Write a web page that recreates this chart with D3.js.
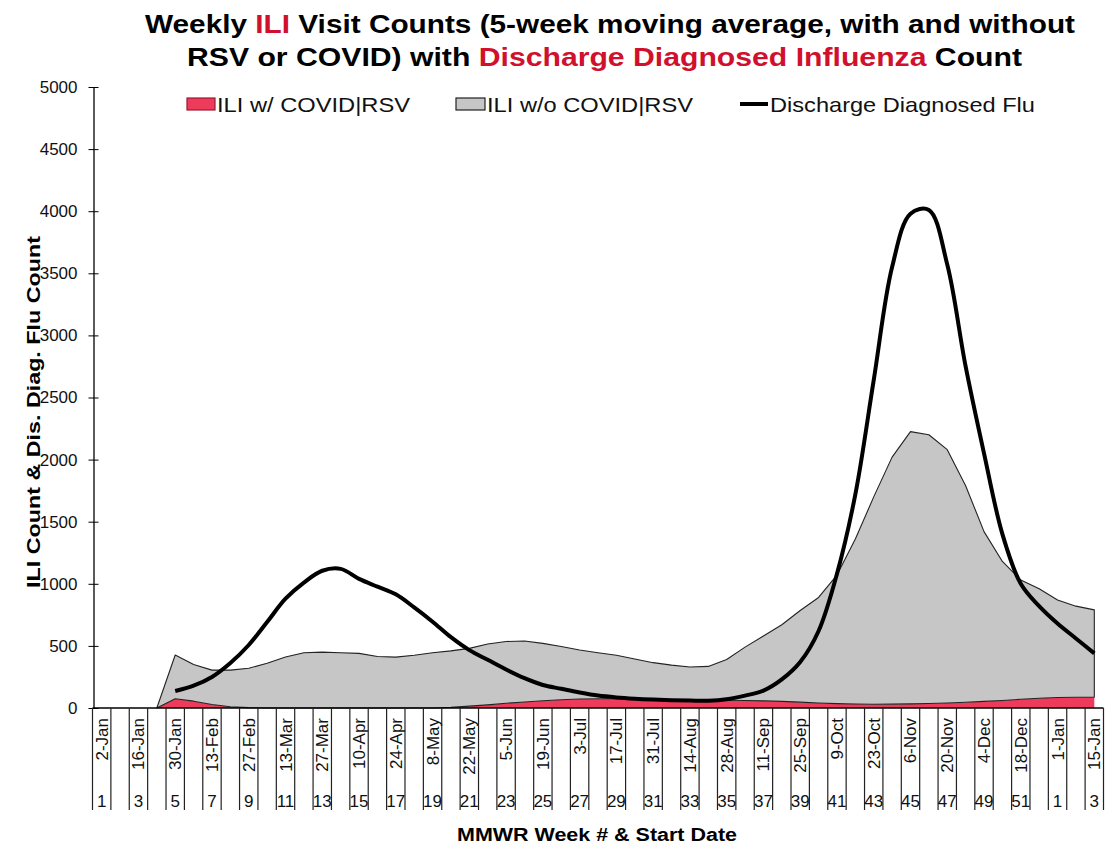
<html>
  <head>
    <title>Weekly ILI Visit Counts</title>
    <script src="https://d3js.org/d3.v7.min.js"></script>
    <style>
      body {
        margin: 0;
        background-color: white;
        font-family: "Liberation Sans", Arial, sans-serif;
      }
    </style>
  </head>
  <body>
    <svg id="chart" width="1105" height="844"></svg>

    <script>
      // week start dates and MMWR week numbers (Jan 2022 - Jan 2023)
      var dates = ["2-Jan","9-Jan","16-Jan","23-Jan","30-Jan","6-Feb","13-Feb","20-Feb","27-Feb","6-Mar",
        "13-Mar","20-Mar","27-Mar","3-Apr","10-Apr","17-Apr","24-Apr","1-May","8-May","15-May",
        "22-May","29-May","5-Jun","12-Jun","19-Jun","26-Jun","3-Jul","10-Jul","17-Jul","24-Jul",
        "31-Jul","7-Aug","14-Aug","21-Aug","28-Aug","4-Sep","11-Sep","18-Sep","25-Sep","2-Oct",
        "9-Oct","16-Oct","23-Oct","30-Oct","6-Nov","13-Nov","20-Nov","27-Nov","4-Dec","11-Dec",
        "18-Dec","25-Dec","1-Jan","8-Jan","15-Jan"];
      var weeks = [1,2,3,4,5,6,7,8,9,10,11,12,13,14,15,16,17,18,19,20,21,22,23,24,25,26,27,28,29,30,
        31,32,33,34,35,36,37,38,39,40,41,42,43,44,45,46,47,48,49,50,51,52,1,2,3];

      // ILI w/ COVID|RSV (5-week moving avg)
      var iliWith = [0,0,0,0,75,55,28,10,3,0,0,0,0,0,0,0,0,0,0,5,15,25,38,48,58,66,72,75,75,72,
        70,68,66,64,62,60,57,53,47,40,35,32,30,31,33,36,40,46,53,60,70,78,84,86,86];
      // ILI w/o COVID|RSV (5-week moving avg)
      var iliWithout = [0,0,0,0,352,295,277,295,317,360,410,445,450,445,440,415,410,425,445,455,
        465,490,497,492,462,429,395,370,350,323,295,277,264,271,328,430,523,617,738,850,
        1035,1328,1670,1989,2192,2164,2040,1744,1367,1120,960,882,786,734,704];
      // Discharge diagnosed flu count
      var fluCount = [null,null,null,null,137,180,250,362,507,692,880,1010,1105,1120,1040,977,915,810,695,570,
        466,388,310,240,185,155,125,100,85,75,68,63,60,58,70,100,140,230,370,620,
        1080,1720,2640,3550,3980,4010,3570,2750,2050,1400,1000,820,680,560,440];

      var yTicks = [0,500,1000,1500,2000,2500,3000,3500,4000,4500,5000];

      var red = "#ef3b5b";
      var titleRed = "#d0102c";

      var svg = d3.select("#chart");

      var x = d3.scaleBand()
        .domain(d3.range(dates.length))
        .range([92.5, 1103.5])
        .padding(0);
      var cx = function(i){ return x(i) + x.bandwidth() / 2; };

      var y = d3.scaleLinear()
        .domain([0, 5000])
        .range([708, 87]);

      // stacked areas
      var rows = dates.map(function(d, i){
        return {i: i, withC: iliWith[i], without: iliWithout[i]};
      });
      var series = d3.stack().keys(["withC", "without"])(rows);

      var area = d3.area()
        .x(function(d){ return cx(d.data.i); })
        .y0(function(d){ return y(d[0]); })
        .y1(function(d){ return y(d[1]); });

      svg.append("path")
        .datum(series[0].filter(function(d){ return d.data.i >= 3; }))
        .attr("d", area)
        .attr("fill", red);

      svg.append("path")
        .datum(series[1].filter(function(d){ return d.data.i >= 3; }))
        .attr("d", area)
        .attr("fill", "#c6c6c6")
        .attr("stroke", "#222")
        .attr("stroke-width", 1.1)
        .attr("stroke-linejoin", "round");

      // flu line
      var line = d3.line()
        .defined(function(d){ return d != null; })
        .x(function(d, i){ return cx(i); })
        .y(function(d){ return y(d); })
        .curve(d3.curveCatmullRom.alpha(0.5));

      svg.append("path")
        .datum(fluCount)
        .attr("d", line)
        .attr("fill", "none")
        .attr("stroke", "#000")
        .attr("stroke-width", 4)
        .attr("stroke-linejoin", "round");

      // y axis
      var yAxis = svg.append("g")
        .attr("transform", "translate(93.5,0)")
        .call(d3.axisLeft(y).tickValues(yTicks).tickFormat(d3.format("d")).tickSize(5).tickSizeOuter(0));
      yAxis.select(".domain").attr("stroke", "#000").attr("stroke-width", 1.3);
      yAxis.selectAll(".tick line").attr("x1", 5).attr("x2", -5).attr("stroke", "#000");
      yAxis.selectAll(".tick text")
        .attr("x", -16)
        .attr("fill", "#111")
        .style("font-family", "'Liberation Sans', Arial, sans-serif")
        .style("font-size", "17px");

      // x axis: multi-level category table
      var xg = svg.append("g");
      xg.append("line")
        .attr("x1", 92.5).attr("x2", 1103.5)
        .attr("y1", 708).attr("y2", 708)
        .attr("stroke", "#000").attr("stroke-width", 1.3);

      var bounds = d3.range(dates.length + 1);
      xg.selectAll(".sep").data(bounds).enter().append("line")
        .attr("class", "sep")
        .attr("x1", function(i){ return i < dates.length ? x(i) : x.range()[1]; })
        .attr("x2", function(i){ return i < dates.length ? x(i) : x.range()[1]; })
        .attr("y1", 708).attr("y2", 810)
        .attr("stroke", "#222").attr("stroke-width", 1.2);

      var shown = d3.range(0, dates.length, 2);

      xg.selectAll(".date").data(shown).enter().append("text")
        .attr("class", "date")
        .attr("transform", function(i){ return "translate(" + (cx(i) + 6) + ",718) rotate(-90)"; })
        .attr("text-anchor", "end")
        .style("font-size", "17px")
        .attr("fill", "#111")
        .text(function(i){ return dates[i]; });

      xg.selectAll(".wk").data(shown).enter().append("text")
        .attr("class", "wk")
        .attr("x", function(i){ return cx(i); })
        .attr("y", 807)
        .attr("text-anchor", "middle")
        .style("font-size", "17px")
        .attr("fill", "#111")
        .text(function(i){ return weeks[i]; });

      // axis titles
      svg.append("text")
        .attr("x", 597).attr("y", 841)
        .attr("text-anchor", "middle")
        .style("font-size", "18px").style("font-weight", "bold")
        .attr("textLength", 280).attr("lengthAdjust", "spacingAndGlyphs")
        .text("MMWR Week # & Start Date");

      svg.append("text")
        .attr("transform", "translate(40,412) rotate(-90)")
        .attr("text-anchor", "middle")
        .style("font-size", "18px").style("font-weight", "bold")
        .attr("textLength", 352).attr("lengthAdjust", "spacingAndGlyphs")
        .text("ILI Count & Dis. Diag. Flu Count");

      // title
      var title1 = svg.append("text")
        .attr("x", 145).attr("y", 33)
        .attr("textLength", 930).attr("lengthAdjust", "spacingAndGlyphs")
        .style("font-size", "25px").style("font-weight", "bold");
      title1.append("tspan").text("Weekly ");
      title1.append("tspan").attr("fill", titleRed).text("ILI");
      title1.append("tspan").text(" Visit Counts (5-week moving average, with and without");

      var title2 = svg.append("text")
        .attr("x", 187).attr("y", 66)
        .attr("textLength", 835).attr("lengthAdjust", "spacingAndGlyphs")
        .style("font-size", "25px").style("font-weight", "bold");
      title2.append("tspan").text("RSV or COVID) with ");
      title2.append("tspan").attr("fill", titleRed).text("Discharge Diagnosed Influenza");
      title2.append("tspan").text(" Count");

      // legend
      var legend = svg.append("g");
      legend.append("rect")
        .attr("x", 187).attr("y", 98).attr("width", 28).attr("height", 12)
        .attr("fill", red).attr("stroke", "#9a1a30").attr("stroke-width", 1.2);
      legend.append("text")
        .attr("x", 217).attr("y", 112)
        .attr("textLength", 193).attr("lengthAdjust", "spacingAndGlyphs")
        .style("font-size", "21px").attr("fill", "#111")
        .text("ILI w/ COVID|RSV");

      legend.append("rect")
        .attr("x", 456).attr("y", 98).attr("width", 29).attr("height", 12)
        .attr("fill", "#c6c6c6").attr("stroke", "#222").attr("stroke-width", 1.2);
      legend.append("text")
        .attr("x", 487).attr("y", 112)
        .attr("textLength", 206).attr("lengthAdjust", "spacingAndGlyphs")
        .style("font-size", "21px").attr("fill", "#111")
        .text("ILI w/o COVID|RSV");

      legend.append("line")
        .attr("x1", 740).attr("x2", 768).attr("y1", 104).attr("y2", 104)
        .attr("stroke", "#000").attr("stroke-width", 4);
      legend.append("text")
        .attr("x", 770).attr("y", 112)
        .attr("textLength", 265).attr("lengthAdjust", "spacingAndGlyphs")
        .style("font-size", "21px").attr("fill", "#111")
        .text("Discharge Diagnosed Flu");
    </script>
  </body>
</html>
